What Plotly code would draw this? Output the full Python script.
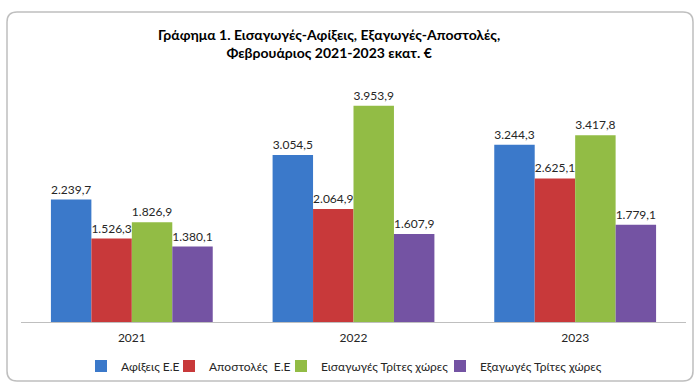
import plotly.graph_objects as go

years = ["2021", "2022", "2023"]
series_names = ["Αφίξεις Ε.Ε", "Αποστολές  Ε.Ε", "Εισαγωγές Τρίτες χώρες", "Εξαγωγές Τρίτες χώρες"]
afixeis = [2239.7, 3054.5, 3244.3]
apostoles = [1526.3, 2064.9, 2625.1]
eisagoges = [1826.9, 3953.9, 3417.8]
exagoges = [1380.1, 1607.9, 1779.1]
colors = ["#3B79CA", "#C8393A", "#92BC45", "#7453A3"]

L, R, T, B = 21, 14, 76, 62
W, H = 700, 384
pw, ph = W - L - R, H - T - B

def px(x):
    return (x - L) / pw

def py(y):
    return (H - B - y) / ph

legend_ids = ["legend", "legend2", "legend3", "legend4"]
legend_left = [81, 169, 281, 440]

fig = go.Figure()
for name, vals, col, lid in zip(series_names, [afixeis, apostoles, eisagoges, exagoges], colors, legend_ids):
    fig.add_trace(go.Bar(
        x=years, y=vals, name=name, legend=lid,
        marker=dict(color=col, line=dict(width=0)),
        texttemplate="%{y:,.1f}", textposition="outside",
        textfont=dict(size=12, color="#262626"),
        cliponaxis=False,
    ))

x0, x1, y0, y1 = 7, 693, 12, 381
r = 10
path = (
    f"M {px(x0 + r)} {py(y0)} L {px(x1 - r)} {py(y0)} "
    f"Q {px(x1)} {py(y0)} {px(x1)} {py(y0 + r)} "
    f"L {px(x1)} {py(y1 - r)} Q {px(x1)} {py(y1)} {px(x1 - r)} {py(y1)} "
    f"L {px(x0 + r)} {py(y1)} Q {px(x0)} {py(y1)} {px(x0)} {py(y1 - r)} "
    f"L {px(x0)} {py(y0 + r)} Q {px(x0)} {py(y0)} {px(x0 + r)} {py(y0)} Z"
)

legend_style = dict(orientation="h", yanchor="middle", xanchor="left",
                    font=dict(size=12, color="#262626"), bgcolor="rgba(0,0,0,0)")
layout_legends = {}
for lid, lx in zip(legend_ids, legend_left):
    layout_legends[lid] = dict(legend_style, x=px(lx), y=py(366))

fig.update_layout(
    width=W, height=H,
    margin=dict(l=L, r=R, t=T, b=B, autoexpand=False),
    paper_bgcolor="white", plot_bgcolor="white",
    font=dict(family="Lato, Liberation Sans, sans-serif", color="#262626"),
    separators=",.",
    barmode="group", bargap=0.27, bargroupgap=0,
    showlegend=True,
    xaxis=dict(showline=True, linecolor="#BFBFBF", linewidth=1, ticks="",
               ticklabelstandoff=5,
               tickfont=dict(size=12, color="#262626"), showgrid=False),
    yaxis=dict(range=[0, 4500], visible=False, showgrid=False),
    shapes=[dict(type="path", path=path, xref="paper", yref="paper",
                 line=dict(color="#BFBFBF", width=1.5), layer="below")],
    annotations=[dict(text="<b>Γράφημα 1. Εισαγωγές-Αφίξεις, Εξαγωγές-Αποστολές,<br>Φεβρουάριος 2021-2023 εκατ. €</b>",
                      xref="paper", yref="paper", x=px(329), y=py(43), xanchor="center", yanchor="middle",
                      showarrow=False, font=dict(size=14, color="#000000"))],
    **layout_legends,
)

fig.write_html("out.html", config={"displayModeBar": False},
               post_script="document.body.style.margin='0px';")
